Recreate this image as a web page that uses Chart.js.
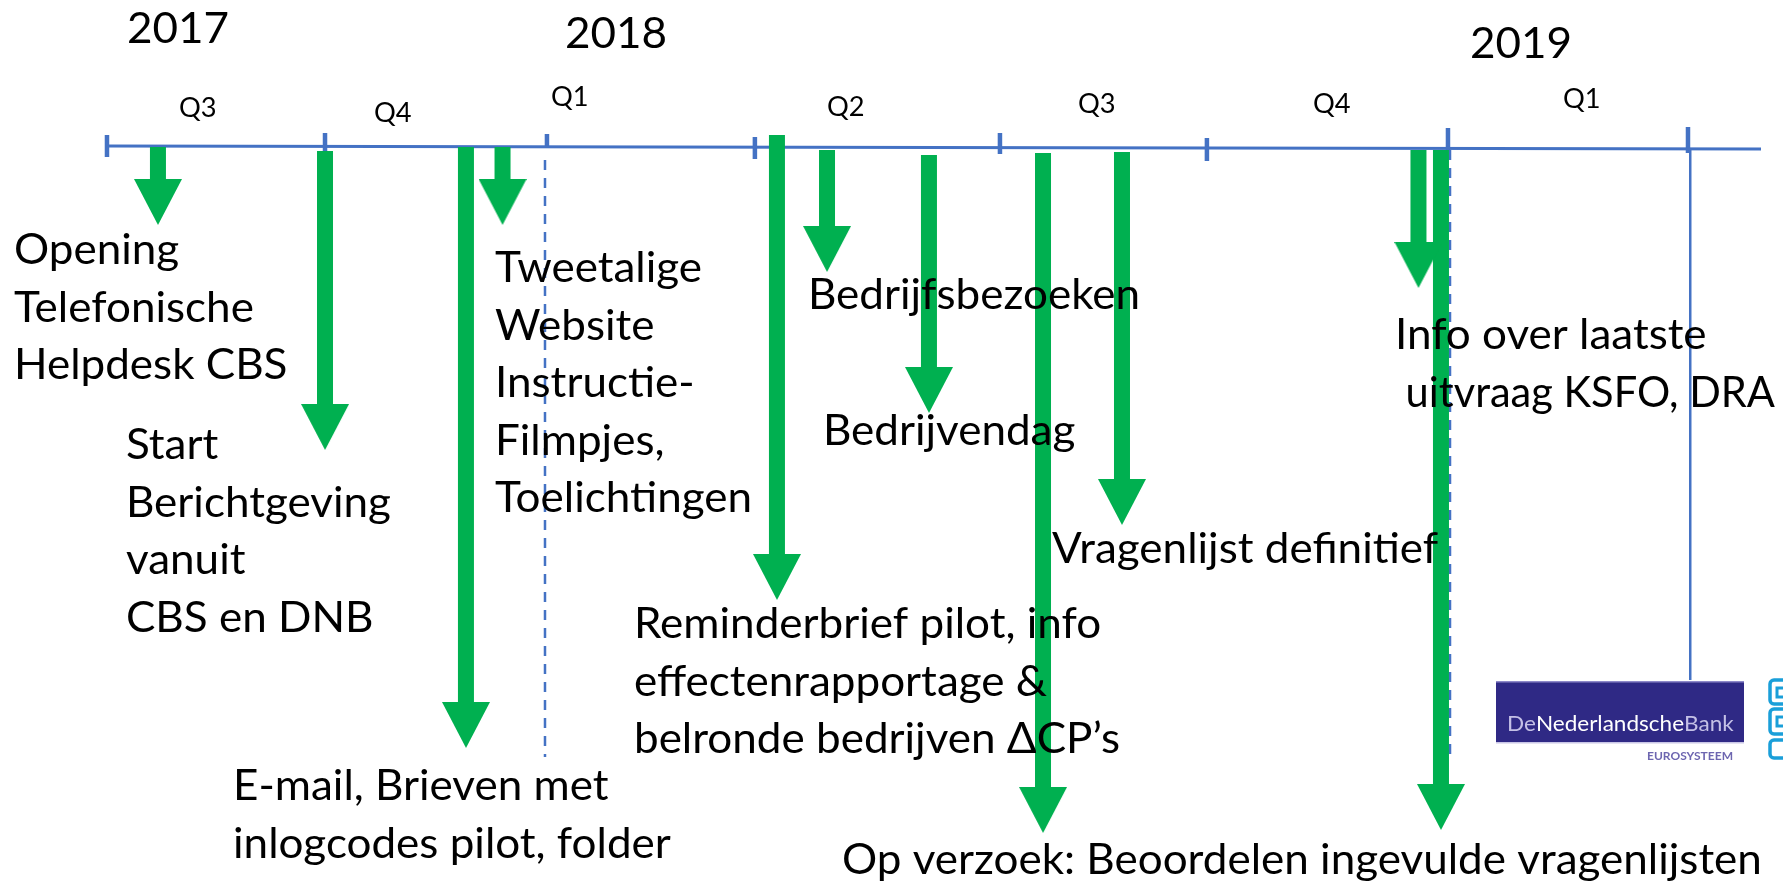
<!DOCTYPE html>
<html><head><meta charset="utf-8">
<script src="https://cdn.jsdelivr.net/npm/chart.js@4.4.1/dist/chart.umd.min.js"></script>
<style>html,body{margin:0;padding:0;background:#fff;overflow:hidden}#wrap{width:1783px;height:887px;position:relative}</style>
</head><body><div id="wrap"><canvas id="c"></canvas></div>
<script>
// x unit: months since start of 2017-Q3; y unit: depth (drawing rows)
const quarterTicks = [0, 2.896, 5.844, 8.606, 11.861, 14.610, 17.812, 21.0];
const tickTop      = [135, 133, 134, 137, 133, 138, 128, 127];
const tickBottom   = [157, 152, 147, 159, 154, 161, 150, 153];
const quarterLabels = ['Q3','Q4','Q1','Q2','Q3','Q4','Q1'];
const quarterLabelX = [0.956, 3.546, 5.898, 9.564, 12.898, 16.019, 19.340];
const quarterLabelY = [117, 122, 106, 116, 113, 113, 108];
const years  = ['2017','2018','2019'];
const yearX  = [0.265, 6.083, 18.104];
const yearY  = [43, 48, 58];

const axisX = [0, 21.97];
const axisY = [146, 149];
const dashX = [5.818, 17.839];
const dashTop = [160, 150];
const dashBottom = [757, 757];
const endLineX = 21.03, endLineTop = 150, endLineBottom = 680;

// events: arrow position (month) and vertical extent (start, tip)
const eventX     = [0.677, 2.896, 4.768, 5.254, 8.899, 9.564, 10.918, 12.433, 13.482, 17.42, 17.719];
const eventStart = [147, 151, 147, 147, 135, 150, 155, 153, 152, 150, 150];
const eventEnd   = [225, 450, 748, 225, 600, 272, 413, 833, 525, 288, 830];

const labelText = [
  ['Opening','Telefonische','Helpdesk CBS'],
  ['Start','Berichtgeving','vanuit','CBS en DNB'],
  ['Tweetalige','Website','Instructie-','Filmpjes,','Toelichtingen'],
  ['Bedrijfsbezoeken'],
  ['Bedrijvendag'],
  ['Reminderbrief pilot, info','effectenrapportage &','belronde bedrijven \u0394CP\u2019s'],
  ['E-mail, Brieven met','inlogcodes pilot, folder'],
  ['Vragenlijst definitief'],
  ['Info over laatste',' uitvraag KSFO, DRA'],
  ['Op verzoek: Beoordelen ingevulde vragenlijsten']
];
const labelX = [-1.235, 0.252, 5.154, 9.311, 9.510, 7.000, 1.674, 12.552, 17.108, 9.763];
const labelY = [264, 459, 282, 309, 445, 638, 800, 563, 349, 874];

const GREEN = '#00B050', BLUE = '#4472C4';
const HEAD_LEN = 46, HEAD_W = 48, SHAFT_W = 16, LINE_GAP = 57.5, EDGE = 8;

// arrow head image: triangle whose base sits at the image centre
const head = document.createElement('canvas');
head.width = HEAD_W; head.height = HEAD_LEN * 2;
(function(){ const g = head.getContext('2d'); g.fillStyle = GREEN; g.beginPath();
  g.moveTo(0, HEAD_LEN); g.lineTo(HEAD_W, HEAD_LEN); g.lineTo(HEAD_W/2, HEAD_LEN*2); g.closePath(); g.fill(); })();

const datasets = [];
datasets.push({data: axisX.map((x,i)=>({x, y: axisY[i]})), borderColor: BLUE, borderWidth: 3, pointRadius: 0, order: 5});
quarterTicks.forEach((x,i)=>datasets.push({data:[{x,y:tickTop[i]},{x,y:tickBottom[i]}], borderColor: BLUE, borderWidth: 4.5, pointRadius: 0, order: 5, borderCapStyle:'butt'}));
dashX.forEach((x,i)=>datasets.push({data:[{x,y:dashTop[i]},{x,y:dashBottom[i]}], borderColor: BLUE, borderWidth: 2.5, borderDash:[10,8], pointRadius: 0, order: 4}));
datasets.push({data:[{x:endLineX,y:endLineTop},{x:endLineX,y:endLineBottom}], borderColor: BLUE, borderWidth: 2.5, pointRadius: 0, order: 4});
eventX.forEach((x,i)=>datasets.push({
  data:[{x, y:eventStart[i]},{x, y:eventEnd[i]-HEAD_LEN}],
  borderColor: GREEN, borderWidth: SHAFT_W, borderCapStyle:'butt',
  pointRadius: c => c.dataIndex === 1 ? 1 : 0,
  pointStyle: c => c.dataIndex === 1 ? head : 'circle',
  order: 0
}));

const textPlugin = {
  id: 'texts',
  afterDatasetsDraw(chart) {
    const {ctx, scales:{x: xs, y: ys}} = chart;
    ctx.save();
    ctx.fillStyle = '#000';
    ctx.textBaseline = 'alphabetic';
    ctx.font = '42px Lato';
    const f = 257 / ctx.measureText('Toelichtingen').width;
    const put = (t, x, y) => {
      let s = f; const w = ctx.measureText(t).width * f;
      if (x + w > chart.width - EDGE) s = f * (chart.width - EDGE - x) / w;
      ctx.save(); ctx.translate(x, y); ctx.scale(s, 1); ctx.fillText(t, 0, 0); ctx.restore();
    };
    years.forEach((t,i)=>put(t, xs.getPixelForValue(yearX[i]), ys.getPixelForValue(yearY[i])));
    labelText.forEach((lines,i)=>lines.forEach((t,j)=>put(t, xs.getPixelForValue(labelX[i]), ys.getPixelForValue(labelY[i]+j*LINE_GAP))));
    ctx.font = '26px Lato';
    quarterLabels.forEach((t,i)=>put(t, xs.getPixelForValue(quarterLabelX[i]), ys.getPixelForValue(quarterLabelY[i])));
    // DNB logo (decoration)
    ctx.fillStyle = '#2f2985';
    ctx.fillRect(1496, 681, 248, 62);
    ctx.fillStyle = '#8e89c9';
    ctx.fillRect(1496, 681, 248, 1.5);
    ctx.fillStyle = '#c9c6e6';
    ctx.fillRect(1496, 742, 248, 1.5);
    ctx.font = '21px Lato';
    const full = 'DeNederlandscheBank';
    const g = 226 / ctx.measureText(full).width;
    ctx.save(); ctx.translate(1507, 731); ctx.scale(g, 1);
    let cx = 0;
    [['De','#c4c0e6'],['Nederlandsche','#ffffff'],['Bank','#c4c0e6']].forEach(([t,c])=>{ ctx.fillStyle=c; ctx.fillText(t,cx,0); cx += ctx.measureText(t).width; });
    ctx.restore();
    ctx.font = 'bold 11px Lato';
    const e = 86 / ctx.measureText('EUROSYSTEEM').width;
    ctx.fillStyle = '#6d66b0';
    ctx.save(); ctx.translate(1647, 760); ctx.scale(e, 1); ctx.fillText('EUROSYSTEEM', 0, 0); ctx.restore();
    ctx.strokeStyle = '#1a9fd9'; ctx.lineWidth = 3.5;
    [[680,24],[709,25],[740,18]].forEach(([y,h])=>{ ctx.beginPath(); ctx.roundRect(1770, y, 30, h, 4); ctx.stroke(); });
    ctx.lineWidth = 3;
    [[688],[717]].forEach(([y])=>{ ctx.strokeRect(1777, y, 10, 9); });
    ctx.restore();
  }
};

new Chart(document.getElementById('c'), {
  type: 'line',
  data: { datasets },
  options: {
    responsive: true, maintainAspectRatio: false, animation: false, events: [],
    layout: { padding: 0, autoPadding: false },
    plugins: { legend: { display: false }, tooltip: { enabled: false } },
    elements: { line: { tension: 0, fill: false } },
    scales: {
      x: { type: 'linear', min: -1.421, max: 22.262, display: false },
      y: { type: 'linear', min: 0, max: 887, reverse: true, display: false }
    }
  },
  plugins: [textPlugin]
});
</script></body></html>
